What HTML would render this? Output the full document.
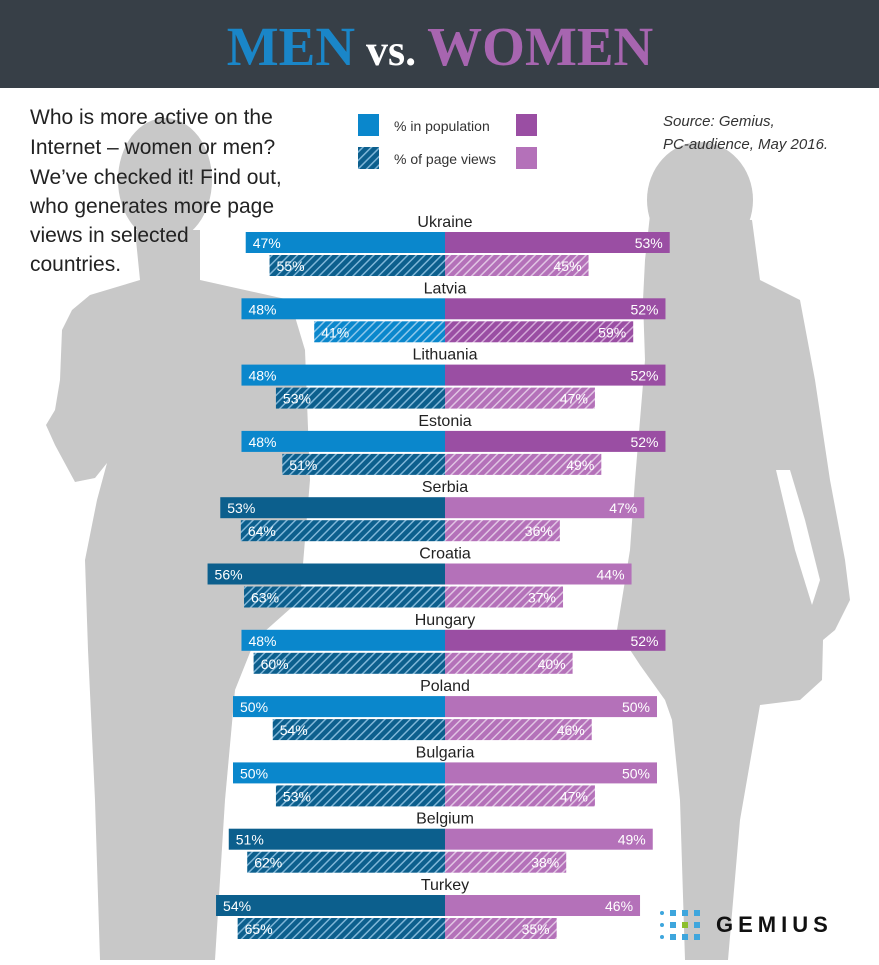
<!DOCTYPE html>
<html><head><meta charset="utf-8">
<style>
body{margin:0;width:879px;height:960px;overflow:hidden;background:#fff;font-family:"Liberation Sans",sans-serif;}
</style></head>
<body>
<svg id="chart" width="879" height="960" viewBox="0 0 879 960" xmlns="http://www.w3.org/2000/svg">
<defs>
<pattern id="hatchM" patternUnits="userSpaceOnUse" width="6" height="6" patternTransform="rotate(45)">
<rect width="6" height="6" fill="#0c5f8d"/><rect width="1.5" height="6" fill="#7fb6d8"/></pattern>
<pattern id="hatchMl" patternUnits="userSpaceOnUse" width="6" height="6" patternTransform="rotate(45)">
<rect width="6" height="6" fill="#0a87cc"/><rect width="1.5" height="6" fill="#8cc6ea"/></pattern>
<pattern id="hatchW" patternUnits="userSpaceOnUse" width="6" height="6" patternTransform="rotate(45)">
<rect width="6" height="6" fill="#9a4ea3"/><rect width="1.5" height="6" fill="#d3a9d8"/></pattern>
<pattern id="hatchWl" patternUnits="userSpaceOnUse" width="6" height="6" patternTransform="rotate(45)">
<rect width="6" height="6" fill="#b471b9"/><rect width="1.5" height="6" fill="#e0c4e3"/></pattern>
</defs>
<g fill="#c8c8c8">
<ellipse cx="165" cy="180" rx="47" ry="62"/>
<path d="M135 230 L140 280 L90 295 L72 310 L62 330 L60 380 L55 410 L46 425 L55 445 L75 482 L95 478 L107 463 L97 500 L85 560 L88 650 L95 800 L100 960 L215 960 L225 800 L235 690 L255 640 L300 600 L310 480 L305 350 L290 300 L200 280 L200 230 Z"/>
</g>
<g fill="#c8c8c8">
<ellipse cx="700" cy="200" rx="53" ry="58"/>
<path d="M650 215 L645 260 L643 300 L645 360 L640 420 L635 480 L630 550 L617 630 L640 665 L665 700 L672 720 L680 800 L685 960 L728 960 L740 820 L760 705 L800 700 L822 680 L823 640 L835 630 L850 600 L845 560 L830 480 L815 380 L800 300 L760 280 L752 220 Z"/>
<path d="M776 470 L795 550 L812 605 L820 580 L805 520 L790 470 Z" fill="#fff"/>
</g>
<rect x="0" y="0" width="879" height="88" fill="#373f47"/>
<text x="440" y="65" text-anchor="middle" font-family="Liberation Serif, serif" font-weight="bold" font-size="55"><tspan fill="#1a86c8">MEN</tspan><tspan fill="#fff" font-size="44"> vs. </tspan><tspan fill="#a765b0">WOMEN</tspan></text>
<text font-size="21" fill="#222">
<tspan x="30" y="124">Who is more active on the</tspan>
<tspan x="30" y="154">Internet – women or men?</tspan>
<tspan x="30" y="184">We’ve checked it! Find out,</tspan>
<tspan x="30" y="213">who generates more page</tspan>
<tspan x="30" y="242">views in selected</tspan>
<tspan x="30" y="271">countries.</tspan>
</text>
<g>
<rect x="358" y="114" width="21" height="22" fill="#0a87cc"/>
<text x="394" y="131" font-size="14" fill="#333">% in population</text>
<rect x="516" y="114" width="21" height="22" fill="#9a4ea3"/>
<rect x="358" y="147" width="21" height="22" fill="url(#hatchM)"/>
<text x="394" y="164" font-size="14" fill="#333">% of page views</text>
<rect x="516" y="147" width="21" height="22" fill="#b471b9"/>
</g>
<text font-size="15" font-style="italic" fill="#333">
<tspan x="663" y="126">Source:  Gemius,</tspan>
<tspan x="663" y="149">PC-audience, May 2016.</tspan>
</text>
<g id="bars"></g>
<g>
<g fill="#3ea6dd">
<circle cx="662" cy="913" r="2"/><rect x="670" y="910" width="6" height="6"/><rect x="682" y="910" width="6" height="6"/><rect x="694" y="910" width="6" height="6"/>
<circle cx="662" cy="925" r="2"/><rect x="670" y="922" width="6" height="6"/><rect x="682" y="922" width="6" height="6" fill="#8dbf2e"/><rect x="694" y="922" width="6" height="6"/>
<circle cx="662" cy="937" r="2"/><rect x="670" y="934" width="6" height="6"/><rect x="682" y="934" width="6" height="6"/><rect x="694" y="934" width="6" height="6"/>
</g>
<text x="716" y="932" font-size="22" font-weight="bold" letter-spacing="5" fill="#111">GEMIUS</text>
</g>
</svg>
<script>
const countries=["Ukraine","Latvia","Lithuania","Estonia","Serbia","Croatia","Hungary","Poland","Bulgaria","Belgium","Turkey"];
const menPop=[47,48,48,48,53,56,48,50,50,51,54];
const womenPop=[53,52,52,52,47,44,52,50,50,49,46];
const menViews=[55,41,53,51,64,63,60,54,53,62,65];
const womenViews=[45,59,47,49,36,37,40,46,47,38,35];
const NS="http://www.w3.org/2000/svg";
const cx=445, top0=232, step=66.3;
const xPop=v=>v*4.24;
const xViews=v=>v*3.19;
const yGroup=i=>top0+i*step;
const g=document.getElementById('bars');
function mk(tag,attrs){const e=document.createElementNS(NS,tag);for(const k in attrs)e.setAttribute(k,attrs[k]);g.appendChild(e);return e;}
countries.forEach((c,i)=>{
  const y=yGroup(i);
  const lab=mk('text',{x:cx,y:y-5,'text-anchor':'middle','font-size':16,fill:'#222'});
  lab.textContent=c;
  
  
  const rows=[[menPop[i],womenPop[i],y,false,xPop],[menViews[i],womenViews[i],y+23,true,xViews]];
  rows.forEach(([m,w,yy,h,xLen])=>{
    const mBig=m>w, wBig=w>m;
    const mFill=h?(mBig?'url(#hatchM)':'url(#hatchMl)'):(mBig?'#0c5f8d':'#0a87cc');
    const wFill=h?(wBig?'url(#hatchW)':'url(#hatchWl)'):(wBig?'#9a4ea3':'#b471b9');
    const rm=mk('rect',{x:cx-xLen(m),y:yy,width:xLen(m),height:21,fill:mFill});
    
    
    const rw=mk('rect',{x:cx,y:yy,width:xLen(w),height:21,fill:wFill});
    
    
    const tm=mk('text',{x:cx-xLen(m)+7,y:yy+16,'font-size':14,fill:'#fff'});
    tm.textContent=m+'%';
    
    
    const tw=mk('text',{x:cx+xLen(w)-7,y:yy+16,'font-size':14,fill:'#fff','text-anchor':'end'});
    tw.textContent=w+'%';
    
    
  });
});
</script>
</body></html>
